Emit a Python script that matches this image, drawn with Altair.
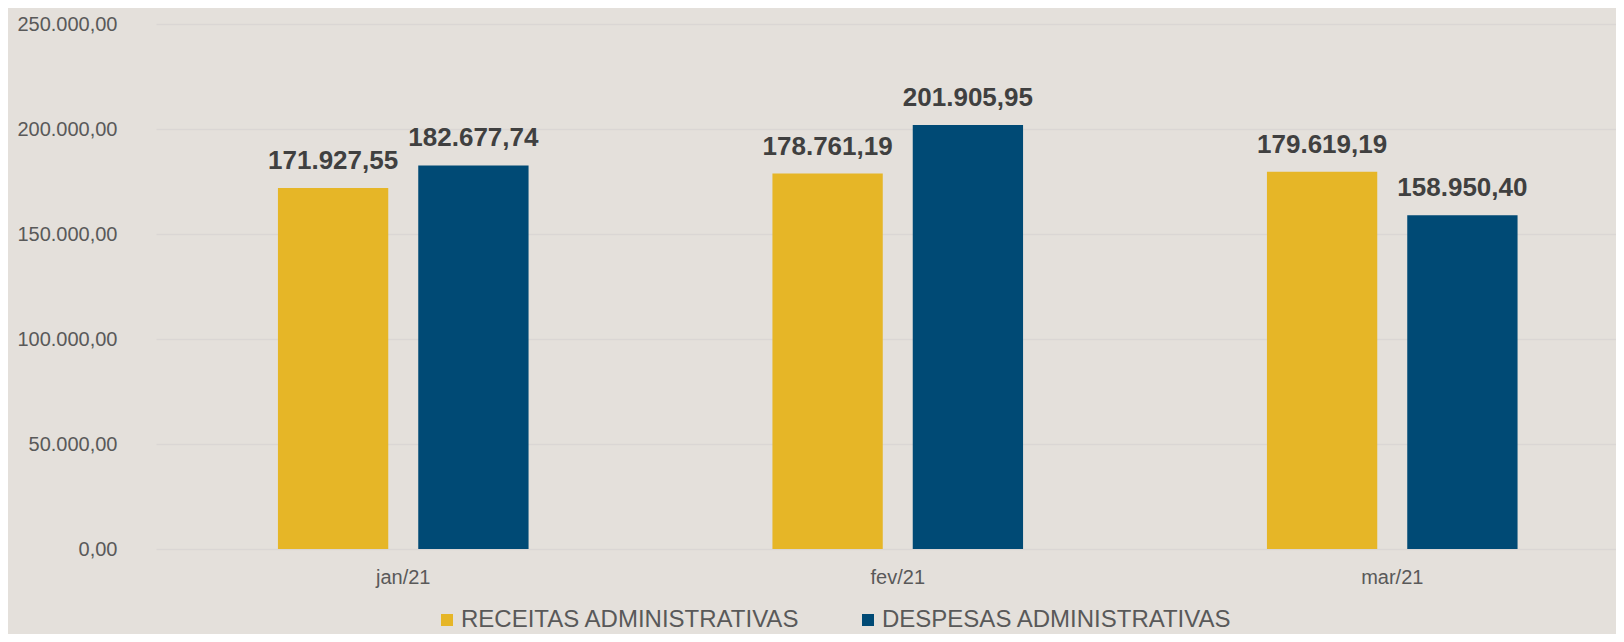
import altair as alt
import pandas as pd

meses = ["jan/21", "fev/21", "mar/21"]
series = ["RECEITAS ADMINISTRATIVAS", "DESPESAS ADMINISTRATIVAS"]
receitas = [171927.55, 178761.19, 179619.19]
despesas = [182677.74, 201905.95, 158950.40]
cores = ["#E6B627", "#004A75"]
y_ticks = [0, 50000, 100000, 150000, 200000, 250000]

rows = []
for m, r, d in zip(meses, receitas, despesas):
    rows.append({"mes": m, "serie": series[0], "valor": r})
    rows.append({"mes": m, "serie": series[1], "valor": d})
df = pd.DataFrame(rows)

br_fmt = "replace(replace(replace(format({v}, ',.2f'), ',', '#'), '.', ','), '#', '.')"

FONT = "Liberation Sans"

x_enc = alt.X(
    "mes:N",
    sort=meses,
    title=None,
    scale=alt.Scale(range=[0, 1483.5], paddingInner=0.4932, paddingOuter=0.2466),
    axis=alt.Axis(
        labelAngle=0,
        labelFontSize=20,
        labelColor="#595959",
        labelFont=FONT,
        labelPadding=18,
        domain=False,
        ticks=False,
        grid=False,
    ),
)
xoff_enc = alt.XOffset(
    "serie:N", sort=series, scale=alt.Scale(paddingInner=0.2138, paddingOuter=0)
)
y_enc = alt.Y(
    "valor:Q",
    title=None,
    scale=alt.Scale(domain=[0, 250000], nice=False),
    axis=alt.Axis(
        values=y_ticks,
        labelExpr=br_fmt.format(v="datum.value"),
        labelFontSize=20,
        labelColor="#595959",
        labelFont=FONT,
        labelPadding=39,
        domain=False,
        ticks=False,
        grid=True,
        gridColor="#DAD6D4",
        gridWidth=1.5,
    ),
)

base = alt.Chart(df)

bars = base.mark_bar().encode(
    x=x_enc,
    xOffset=xoff_enc,
    y=y_enc,
    color=alt.Color(
        "serie:N",
        sort=series,
        scale=alt.Scale(domain=series, range=cores),
        legend=alt.Legend(
            title=None,
            orient="none",
            legendX=279,
            legendY=584,
            direction="horizontal",
            symbolType="square",
            symbolSize=144,
            symbolStrokeWidth=0,
            labelFontSize=24,
            labelFont=FONT,
            labelColor="#595959",
            labelOffset=2,
            columnPadding=56,
            padding=0,
            labelLimit=600,
        ),
    ),
)

labels = base.transform_calculate(
    rotulo=br_fmt.format(v="datum.valor")
).mark_text(
    dy=-27,
    baseline="middle",
    fontSize=26,
    fontWeight="bold",
    font=FONT,
    color="#404040",
).encode(
    x=x_enc,
    xOffset=xoff_enc,
    y=y_enc,
    text="rotulo:N",
)

chart = (
    alt.layer(bars, labels)
    .properties(
        width=1460,
        height=525,
        padding={"left": 148, "top": 16, "right": 0, "bottom": 85},
        autosize=alt.AutoSizeParams(type="none"),
        background="#E4E0DB",
    )
    .configure_view(stroke=None)
)

chart.save("out.html", embed_options={"renderer": "svg", "actions": False})
